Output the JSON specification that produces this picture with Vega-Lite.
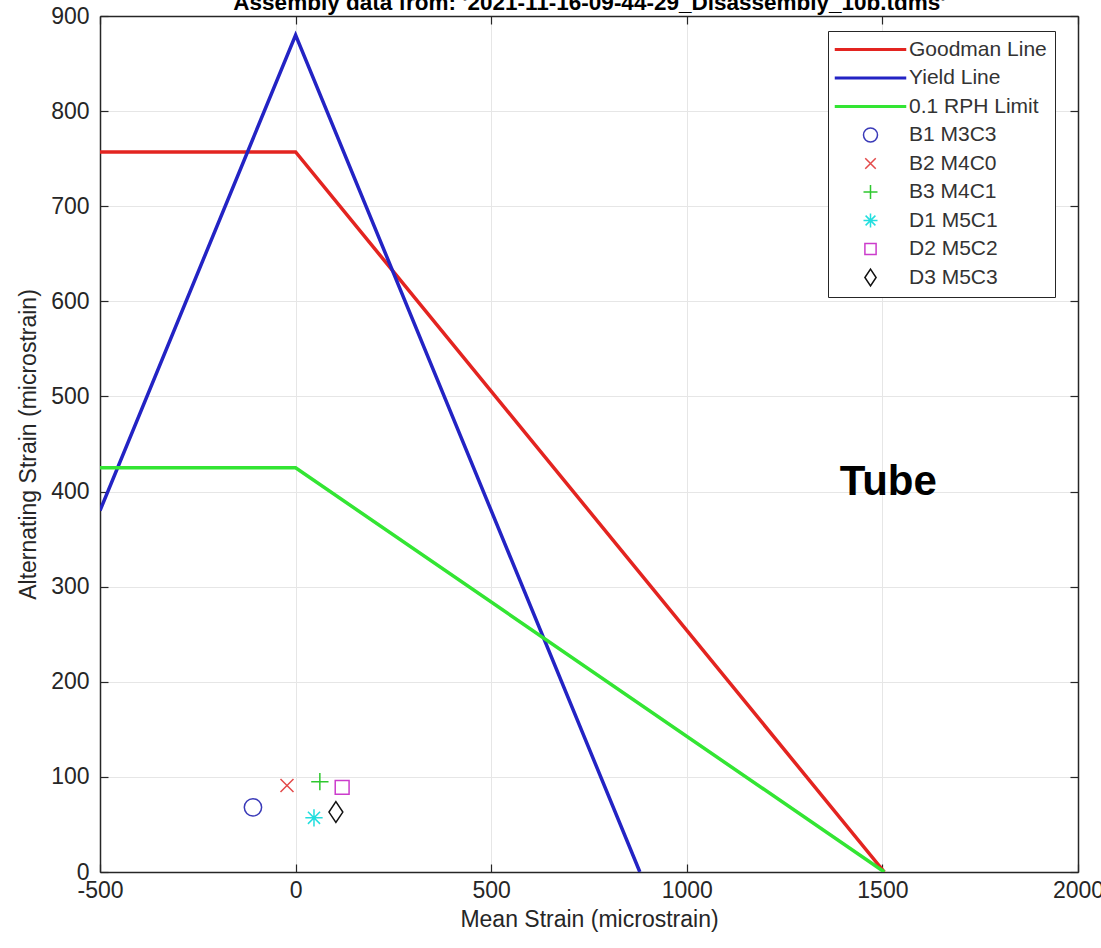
{
  "$schema": "https://vega.github.io/schema/vega-lite/v6.json",
  "autosize": "none",
  "width": 978,
  "height": 856,
  "padding": {"left": 100, "top": 16, "right": 23, "bottom": 76},
  "background": "white",
  "config": {
    "font": "Liberation Sans",
    "view": {"stroke": null},
    "axis": {
      "labelFont": "Liberation Sans",
      "titleFont": "Liberation Sans",
      "labelFontSize": 23,
      "titleFontSize": 23,
      "titleFontWeight": "normal",
      "labelColor": "#262626",
      "titleColor": "#262626",
      "domainColor": "#262626",
      "domainWidth": 1.5,
      "tickColor": "#262626",
      "tickWidth": 1.2,
      "gridColor": "#e6e6e6",
      "gridWidth": 1,
      "gridOpacity": 1
    },
    "legend": {
      "labelFont": "Liberation Sans",
      "labelFontSize": 21,
      "labelColor": "#333333"
    }
  },
  "datasets": {
    "lines": [
      {"series": "Goodman Line", "mean": -500, "alt": 757},
      {"series": "Goodman Line", "mean": 0, "alt": 757},
      {"series": "Goodman Line", "mean": 1505, "alt": 0},
      {"series": "Yield Line", "mean": -500, "alt": 380},
      {"series": "Yield Line", "mean": 0, "alt": 880},
      {"series": "Yield Line", "mean": 880, "alt": 0},
      {"series": "0.1 RPH Limit", "mean": -500, "alt": 425},
      {"series": "0.1 RPH Limit", "mean": 0, "alt": 425},
      {"series": "0.1 RPH Limit", "mean": 1505, "alt": 0}
    ],
    "points": [
      {"series": "B1 M3C3", "mean": -109, "alt": 68},
      {"series": "B2 M4C0", "mean": -22, "alt": 91},
      {"series": "B3 M4C1", "mean": 62, "alt": 95},
      {"series": "D1 M5C1", "mean": 47, "alt": 57},
      {"series": "D2 M5C2", "mean": 119, "alt": 89},
      {"series": "D3 M5C3", "mean": 103, "alt": 63}
    ],
    "notes": [
      {"label": "Tube", "mean": 1515, "alt": 410}
    ]
  },
  "resolve": {"axis": {"x": "independent", "y": "independent"}},
  "layer": [
    {
      "data": {"name": "lines"},
      "mark": {"type": "line", "strokeWidth": 3.5, "clip": true},
      "encoding": {
        "x": {
          "field": "mean", "type": "quantitative",
          "scale": {"domain": [-500, 2000], "nice": false, "zero": false},
          "axis": {
            "values": [-500, 0, 500, 1000, 1500, 2000],
            "labelExpr": "'' + datum.value",
            "title": "Mean Strain (microstrain)",
            "grid": true, "tickSize": -8, "labelPadding": 15, "titlePadding": 6,
            "labelFlush": false, "labelOverlap": false
          }
        },
        "y": {
          "field": "alt", "type": "quantitative",
          "scale": {"domain": [0, 900], "nice": false, "zero": false},
          "axis": {
            "values": [0, 100, 200, 300, 400, 500, 600, 700, 800, 900],
            "labelExpr": "'' + datum.value",
            "title": "Alternating Strain (microstrain)",
            "grid": true, "tickSize": -8, "labelPadding": 19, "titlePadding": 10,
            "labelFlush": false, "labelOverlap": false
          }
        },
        "color": {
          "field": "series", "type": "nominal",
          "scale": {
            "domain": ["Goodman Line", "Yield Line", "0.1 RPH Limit", "B1 M3C3", "B2 M4C0", "B3 M4C1", "D1 M5C1", "D2 M5C2", "D3 M5C3"],
            "range": ["#e32420", "#2323c4", "#33e533", "#3a3ab8", "#e34a4a", "#2ec82e", "#22dede", "#cc3ccc", "#111111"]
          },
          "legend": {
            "title": null,
            "orient": "none",
            "legendX": 728,
            "legendY": 15,
            "strokeColor": "#262626",
            "fillColor": "white",
            "padding": 8,
            "symbolSize": 196,
            "symbolStrokeWidth": 1.5,
            "symbolOffset": 24,
            "labelOffset": 28,
            "rowPadding": 6.5,
            "labelLimit": 300
          }
        }
      }
    },
    {
      "data": {"name": "points"},
      "mark": {"type": "point", "filled": false, "size": 300, "strokeWidth": 1.5, "opacity": 1},
      "encoding": {
        "x": {"field": "mean", "type": "quantitative", "axis": null},
        "y": {"field": "alt", "type": "quantitative", "axis": null},
        "color": {
          "field": "series", "type": "nominal",
          "legend": {
            "title": null,
            "orient": "none",
            "legendX": 728,
            "legendY": 15,
            "strokeColor": "#262626",
            "fillColor": "white",
            "padding": 8,
            "symbolSize": 196,
            "symbolStrokeWidth": 1.5,
            "symbolOffset": 24,
            "labelOffset": 28,
            "rowPadding": 6.5,
            "labelLimit": 300
          }
        },
        "shape": {
          "field": "series", "type": "nominal",
          "scale": {
            "domain": ["Goodman Line", "Yield Line", "0.1 RPH Limit", "B1 M3C3", "B2 M4C0", "B3 M4C1", "D1 M5C1", "D2 M5C2", "D3 M5C3"],
            "range": [
              "M-5,-0.1H5V0.1H-5Z",
              "M-5,-0.1H5V0.1H-5Z",
              "M-5,-0.1H5V0.1H-5Z",
              "circle",
              "M-0.75,-0.75L0.75,0.75M-0.75,0.75L0.75,-0.75",
              "M-1,0H1M0,-1V1",
              "M-1,0H1M0,-1V1M-0.7,-0.7L0.7,0.7M-0.7,0.7L0.7,-0.7",
              "M-0.8,-0.8H0.8V0.8H-0.8Z",
              "M0,-1.2L0.8,0L0,1.2L-0.8,0Z"
            ]
          },
          "legend": {
            "title": null,
            "orient": "none",
            "legendX": 728,
            "legendY": 15,
            "strokeColor": "#262626",
            "fillColor": "white",
            "padding": 8,
            "symbolSize": 196,
            "symbolStrokeWidth": 1.5,
            "symbolOffset": 24,
            "labelOffset": 28,
            "rowPadding": 6.5,
            "labelLimit": 300
          }
        }
      }
    },
    {
      "data": {"name": "notes"},
      "mark": {"type": "text", "font": "Liberation Sans", "fontSize": 42, "fontWeight": "bold", "color": "#000000", "align": "center", "baseline": "middle"},
      "encoding": {
        "x": {
          "field": "mean", "type": "quantitative",
          "axis": {
            "orient": "top", "values": [-500, 0, 500, 1000, 1500, 2000],
            "labels": false, "grid": false, "tickSize": -8,
            "title": "Assembly data from: '2021-11-16-09-44-29_Disassembly_10b.tdms'",
            "titleFontSize": 22.5, "titleFontWeight": "bold", "titleColor": "#000000",
            "titleBaseline": "alphabetic", "titleY": -7, "titleAnchor": "middle"
          }
        },
        "y": {
          "field": "alt", "type": "quantitative",
          "axis": {
            "orient": "right", "values": [0, 100, 200, 300, 400, 500, 600, 700, 800, 900],
            "labels": false, "title": null, "grid": false, "tickSize": -8
          }
        },
        "text": {"field": "label"}
      }
    }
  ]
}
